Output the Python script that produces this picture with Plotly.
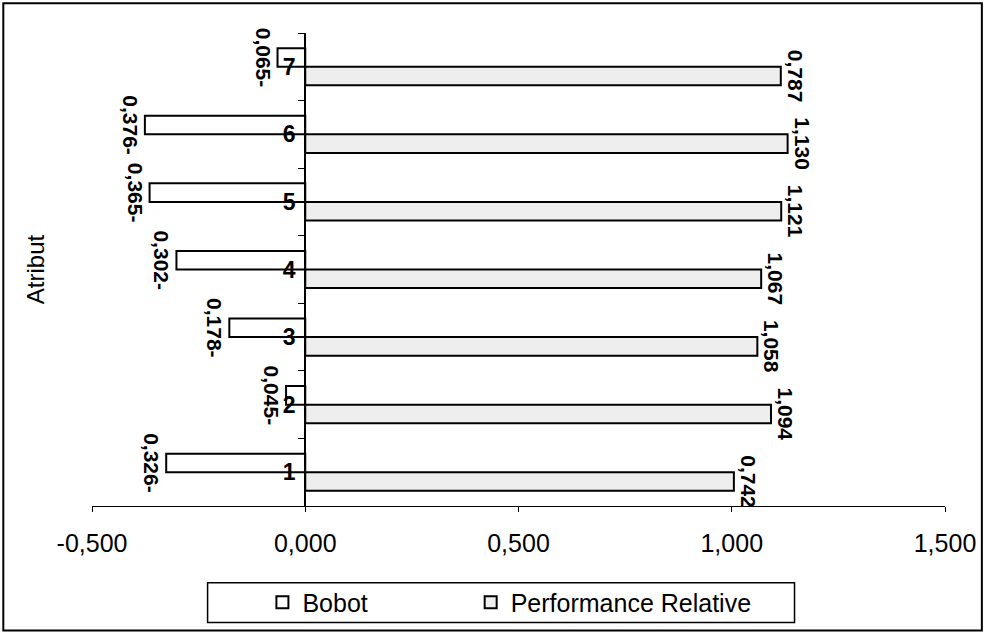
import plotly.graph_objects as go

# ---- data ----
categories = ["1", "2", "3", "4", "5", "6", "7"]
bobot = [-0.326, -0.045, -0.178, -0.302, -0.365, -0.376, -0.065]
bobot_labels = ["0,326-", "0,045-", "0,178-", "0,302-", "0,365-", "0,376-", "0,065-"]
performance_relative = [1.005, 1.092, 1.060, 1.069, 1.116, 1.131, 1.115]
performance_labels = ["0,742", "1,094", "1,058", "1,067", "1,121", "1,130", "0,787"]
xtick_vals = [-0.5, 0.0, 0.5, 1.0, 1.5]
xtick_text = ["-0,500", "0,000", "0,500", "1,000", "1,500"]

FONT = "Liberation Sans, Arial, sans-serif"

fig = go.Figure()
fig.add_trace(go.Bar(
    name="Performance Relative", y=categories, x=performance_relative, orientation="h",
    marker=dict(color="#eeeeee", line=dict(color="black", width=2)),
    text=performance_labels, textposition="outside", textangle=90,
    textfont=dict(family=FONT, size=21, color="black", weight="bold"), cliponaxis=False,
    constraintext="none", legend="legend2",
))
fig.add_trace(go.Bar(
    name="Bobot", y=categories, x=bobot, orientation="h",
    marker=dict(color="white", line=dict(color="black", width=2)),
    text=bobot_labels, textposition="outside", textangle=90,
    textfont=dict(family=FONT, size=21, color="black", weight="bold"), cliponaxis=False,
    constraintext="none", legend="legend",
))

W, H = 988, 637
L, R, T, B = 92, 40, 33, 129
pw, ph = W - L - R, H - T - B


def px(x):
    return (x - L) / pw


def py(y):
    return (H - B - y) / ph


leg_common = dict(orientation="h", y=py(605), xanchor="left", yanchor="middle",
                  font=dict(size=25, family=FONT), bgcolor="rgba(0,0,0,0)")

fig.update_layout(
    width=W, height=H,
    margin=dict(l=L, r=R, t=T, b=B, pad=0),
    paper_bgcolor="white", plot_bgcolor="white",
    font=dict(family=FONT, color="black", size=24),
    barmode="group", bargap=0.45, bargroupgap=0,
    showlegend=True,
    legend=dict(x=px(263), **leg_common),
    legend2=dict(x=px(472), **leg_common),
    xaxis=dict(range=[-0.5, 1.5], tickvals=xtick_vals, ticktext=xtick_text,
               showgrid=False, zeroline=False, showline=True, linecolor="black", linewidth=1,
               ticks="outside", ticklen=5, tickcolor="black",
               tickfont=dict(size=25, family=FONT), ticklabelstandoff=10),
    yaxis=dict(type="category", categoryarray=categories, range=[-0.5, 6.5],
               anchor="free", position=0.25, showline=True, linecolor="black", linewidth=2,
               ticks="outside", tickson="boundaries", ticklen=6, tickcolor="black",
               showgrid=False, zeroline=False, ticklabelstandoff=4,
               tickfont=dict(size=23, family=FONT, weight="bold")),
    shapes=[
        dict(type="rect", xref="paper", yref="paper", x0=px(3), x1=px(985), y0=py(633), y1=py(3),
             line=dict(color="black", width=2), fillcolor="rgba(0,0,0,0)", layer="below"),
        dict(type="rect", xref="paper", yref="paper", x0=px(208), x1=px(797), y0=py(625), y1=py(585),
             line=dict(color="black", width=1.5), fillcolor="rgba(0,0,0,0)"),
    ],
    annotations=[
        dict(text="Atribut", xref="paper", yref="paper", x=px(35), y=py(270), showarrow=False,
             textangle=-90, font=dict(size=24, family=FONT), xanchor="center", yanchor="middle"),
    ],
)

fig.write_html("out.html", config={"displayModeBar": False},
               post_script="document.body.style.margin='0';")
